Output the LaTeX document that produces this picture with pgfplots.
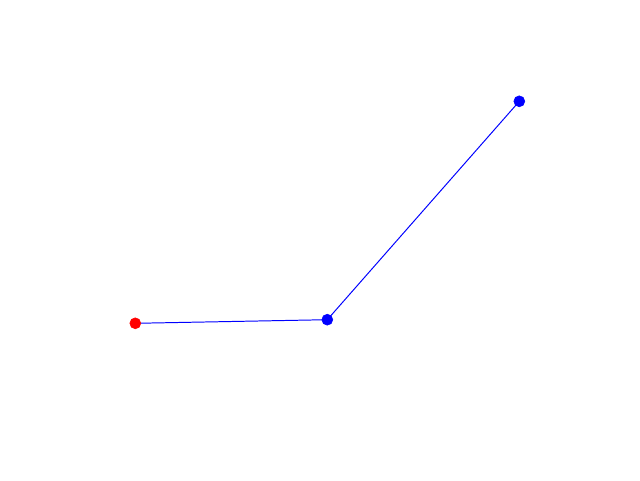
\documentclass[border=0pt]{standalone}
\usepackage{pgfplots}
\pgfplotsset{compat=1.18}
\begin{document}
\begin{tikzpicture}
\begin{axis}[
  width=16cm, height=12cm, scale only axis,
  xmin=0, xmax=640, ymin=0, ymax=480,
  hide axis, clip=false,
]
\path (rel axis cs:0,0) rectangle (rel axis cs:1,1);
\addplot[blue, line width=0.7pt, no marks] coordinates {(135.3,156.7) (327.3,160.3) (519.3,378.7)};
\addplot[only marks, mark=*, mark size=3.9pt, red, mark options={draw=red, fill=red}] coordinates {(135.3,156.7)};
\addplot[only marks, mark=*, mark size=3.9pt, blue, mark options={draw=blue, fill=blue}] coordinates {(327.3,160.3) (519.3,378.7)};
\end{axis}
\end{tikzpicture}
\end{document}
